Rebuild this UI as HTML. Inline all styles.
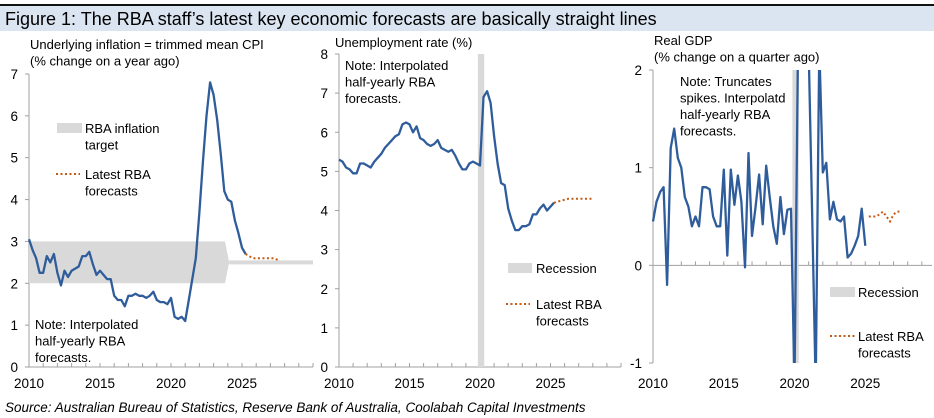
<!DOCTYPE html>
<html><head><meta charset="utf-8">
<style>
body{margin:0;background:#fff;width:934px;height:418px;overflow:hidden;font-family:"Liberation Sans",sans-serif;}
svg{position:absolute;left:0;top:0;}
</style></head><body>
<svg width="934" height="418" font-family="Liberation Sans, sans-serif">
<defs><clipPath id="gdpclip"><rect x="640" y="70" width="294" height="293"/></clipPath></defs>
<rect x="0" y="4" width="934" height="2" fill="#111"/>
<rect x="0" y="6" width="934" height="25" fill="#dbe5f1"/>
<text x="5" y="25" font-size="18" fill="#000">Figure 1: The RBA staff’s latest key economic forecasts are basically straight lines</text>
<text x="5" y="412" font-size="13.5" font-style="italic" fill="#000">Source: Australian Bureau of Statistics, Reserve Bank of Australia, Coolabah Capital Investments</text>
<g id="p1"></g><g id="p2"></g><g id="p3"></g>
</svg>
<script>
// ---- data ----
const inflYears = [];
for (let i = 0; i < 62; i++) inflYears.push(2010 + i * 0.25);
const inflValues = [3.05,2.8,2.6,2.25,2.25,2.65,2.5,2.7,2.25,1.95,2.3,2.15,2.3,2.35,2.4,2.65,2.65,2.75,2.45,2.2,2.3,2.2,2.1,2.1,1.7,1.6,1.6,1.45,1.7,1.7,1.75,1.7,1.7,1.65,1.7,1.8,1.6,1.55,1.55,1.5,1.65,1.2,1.15,1.2,1.1,1.6,2.1,2.6,3.7,4.9,6.0,6.8,6.5,5.9,5.1,4.2,4.0,3.95,3.5,3.2,2.85,2.7];
const inflFcYears = [2025.25,2025.75,2026.25,2026.75,2027.25,2027.6];
const inflFcValues = [2.7,2.6,2.6,2.6,2.6,2.55];
const inflTargetLow = 2, inflTargetHigh = 3, inflTargetMid = 2.5;
const inflTicks = [0,1,2,3,4,5,6,7];

const unYears = [];
for (let i = 0; i < 62; i++) unYears.push(2010 + i * 0.25);
const unValues = [5.3,5.25,5.1,5.05,4.95,4.95,5.2,5.2,5.15,5.1,5.25,5.35,5.45,5.6,5.7,5.8,5.9,5.95,6.2,6.25,6.2,6.0,6.15,5.85,5.8,5.7,5.65,5.7,5.8,5.6,5.55,5.5,5.55,5.4,5.2,5.05,5.05,5.2,5.25,5.2,5.15,6.9,7.05,6.75,5.9,5.2,4.7,4.65,4.05,3.75,3.5,3.5,3.6,3.6,3.65,3.9,3.9,4.05,4.15,4.0,4.1,4.2];
const unFcYears = [2025.25,2025.75,2026.25,2026.75,2027.25,2027.75,2028];
const unFcValues = [4.2,4.25,4.3,4.3,4.3,4.3,4.3];
const unTicks = [0,1,2,3,4,5,6,7,8];

const gdpYears = [];
for (let i = 0; i < 61; i++) gdpYears.push(2010 + i * 0.25);
const gdpValues = [0.45,0.65,0.75,0.8,-0.2,1.2,1.4,1.1,1.0,0.7,0.6,0.4,0.5,0.4,0.8,0.8,0.78,0.5,0.4,0.4,0.98,0.1,0.98,0.62,0.92,0.65,-0.02,1.15,0.3,0.6,0.93,0.42,1.02,0.7,0.4,0.22,0.7,0.32,0.57,0.58,-7,3.5,3.4,3.5,2.4,0.5,-1.6,3.6,0.95,1.05,0.47,0.65,0.47,0.45,0.5,0.08,0.12,0.2,0.3,0.58,0.2];
const gdpFcYears = [2025.25,2025.5,2025.75,2026,2026.25,2026.5,2026.75,2027,2027.25,2027.5];
const gdpFcValues = [0.5,0.5,0.5,0.52,0.55,0.5,0.45,0.52,0.55,0.55];
const gdpTicks = [-1,0,1,2];
const recession = [2019.85,2020.3];
const yearTicks = [2010,2015,2020,2025];

const NS='http://www.w3.org/2000/svg';
function mk(parent,tag,attrs){const e=document.createElementNS(NS,tag);for(const k in attrs)e.setAttribute(k,attrs[k]);parent.appendChild(e);return e;}
function txt(parent,x,y,s,anchor,size){const t=mk(parent,'text',{x:x,y:y,'font-size':size||13,'text-anchor':anchor||'start',fill:'#000'});t.textContent=s;return t;}

function panel(g,cfg){
  const X=v=>cfg.x0+(v-2010)*(cfg.x1-cfg.x0)/20;
  const Y=v=>cfg.yb+(v-cfg.ymin)*(cfg.yt-cfg.yb)/(cfg.ymax-cfg.ymin);
  const span=cfg.ymax-cfg.ymin;
  const lim=v=>Math.max(cfg.ymin-0.08*span,Math.min(cfg.ymax+0.08*span,v));
  const axEnd=Math.min(cfg.x1,932);
  let a=mk(g,'line',{x1:cfg.x0,x2:cfg.x0,y1:Y(cfg.ymin),y2:Y(cfg.ymax),stroke:'#a0a0a0'});
  
  cfg.ticks.forEach(t=>{
    mk(g,'line',{x1:cfg.x0-4,x2:cfg.x0,y1:Y(t),y2:Y(t),stroke:'#a0a0a0'});
    const l=txt(g,cfg.x0-11,Y(t)+5,String(t),'end',13.5);
    
  });
  const ax=mk(g,'line',{x1:cfg.x0,x2:axEnd,y1:Y(cfg.xaxisAt),y2:Y(cfg.xaxisAt),stroke:'#a0a0a0'});
  
  for(let yr=2010;yr<=2030;yr++){if(X(yr)<=axEnd)mk(g,'line',{x1:X(yr),x2:X(yr),y1:Y(cfg.xaxisAt),y2:Y(cfg.xaxisAt)-4,stroke:'#a0a0a0'});}
  yearTicks.forEach(yr=>{const l=txt(g,X(yr),cfg.labY,String(yr),'middle',13.5);
    });
  if(cfg.band){
    const p=mk(g,'path',{d:`M${X(2010)},${Y(inflTargetHigh)} L${X(2023.8)},${Y(inflTargetHigh)} L${X(2024.1)},${Y(inflTargetMid)} L${X(2023.8)},${Y(inflTargetLow)} L${X(2010)},${Y(inflTargetLow)} Z`,fill:'#d9d9d9'});
    
    const m=mk(g,'line',{x1:X(2024.1),x2:X(2030),y1:Y(inflTargetMid),y2:Y(inflTargetMid),stroke:'#d9d9d9','stroke-width':4});
    
  }
  if(cfg.rec){
    const r=mk(g,'rect',{x:X(recession[0]),y:Y(cfg.ymax),width:X(recession[1])-X(recession[0]),height:Y(cfg.ymin)-Y(cfg.ymax),fill:'#d9d9d9'});
    
  }
  const pts=cfg.xs.map((x,i)=>X(x).toFixed(1)+','+Y(lim(cfg.ys[i])).toFixed(1)).join(' ');
  const ln=mk(g,'polyline',{points:pts,fill:'none',stroke:'#2f5d9b','stroke-width':2.3,'stroke-linejoin':'round'});
  if(cfg.clip) ln.setAttribute('clip-path','url(#'+cfg.clip+')');
  
  const fp=cfg.fx.map((x,i)=>X(x).toFixed(1)+','+Y(lim(cfg.fy[i])).toFixed(1)).join(' ');
  const fl=mk(g,'polyline',{points:fp,fill:'none',stroke:'#c55a11','stroke-width':2,'stroke-dasharray':'2,2.5'});
  
}

const p1=document.getElementById('p1'),p2=document.getElementById('p2'),p3=document.getElementById('p3');
panel(p1,{x0:29,x1:313,yb:367,yt:74,ymin:0,ymax:7,ticks:inflTicks,xaxisAt:0,labY:388,xs:inflYears,ys:inflValues,fx:inflFcYears,fy:inflFcValues,band:true});
panel(p2,{x0:339,x1:621,yb:367,yt:54,ymin:0,ymax:8,ticks:unTicks,xaxisAt:0,labY:388,xs:unYears,ys:unValues,fx:unFcYears,fy:unFcValues,rec:true});
panel(p3,{x0:653,x1:936,yb:363,yt:70,ymin:-1,ymax:2,ticks:gdpTicks,xaxisAt:0,labY:388,xs:gdpYears,ys:gdpValues,fx:gdpFcYears,fy:gdpFcValues,rec:true,clip:'gdpclip'});

function block(g,name,x,y,lines,size){const t=mk(g,'text',{x:x,y:y,'font-size':size||13,fill:'#000'});
  
  lines.forEach((s,i)=>{const ts=mk(t,'tspan',{x:x,dy:i?16.5:0});ts.textContent=s;});}
block(p1,'chart-title-inflation',30,49,['Underlying inflation = trimmed mean CPI','(% change on a year ago)'],13);
let lg=mk(p1,'rect',{x:57,y:123,width:25,height:10,fill:'#d9d9d9'});
block(p1,'legend-entry-target',85,133,['RBA inflation','target'],13);
lg=mk(p1,'line',{x1:56,x2:80,y1:174,y2:174,stroke:'#c55a11','stroke-width':2,'stroke-dasharray':'2,2.5'});
block(p1,'legend-entry-forecast',85,179,['Latest RBA','forecasts'],13);
block(p1,'note-inflation',35,329,['Note: Interpolated','half-yearly RBA','forecasts.'],13);
block(p2,'chart-title-unemployment',335,47,['Unemployment rate (%)'],13);
block(p2,'note-unemployment',345,70,['Note: Interpolated','half-yearly RBA','forecasts.'],13);
lg=mk(p2,'rect',{x:508,y:263,width:24,height:10,fill:'#d9d9d9'});
block(p2,'legend-entry-recession',536,273,['Recession'],13);
lg=mk(p2,'line',{x1:506,x2:530,y1:304,y2:304,stroke:'#c55a11','stroke-width':2,'stroke-dasharray':'2,2.5'});
block(p2,'legend-entry-forecast',536,309,['Latest RBA','forecasts'],13);
block(p3,'chart-title-gdp',654,45,['Real GDP','(% change on a quarter ago)'],13);
block(p3,'note-gdp',680,86,['Note: Truncates','spikes. Interpolatd','half-yearly RBA','forecasts.'],13);
lg=mk(p3,'rect',{x:830,y:287,width:25,height:10,fill:'#d9d9d9'});
block(p3,'legend-entry-recession',858,297,['Recession'],13);
lg=mk(p3,'line',{x1:830,x2:855,y1:336,y2:336,stroke:'#c55a11','stroke-width':2,'stroke-dasharray':'2,2.5'});
block(p3,'legend-entry-forecast',858,341,['Latest RBA','forecasts'],13);
</script>
</body></html>
